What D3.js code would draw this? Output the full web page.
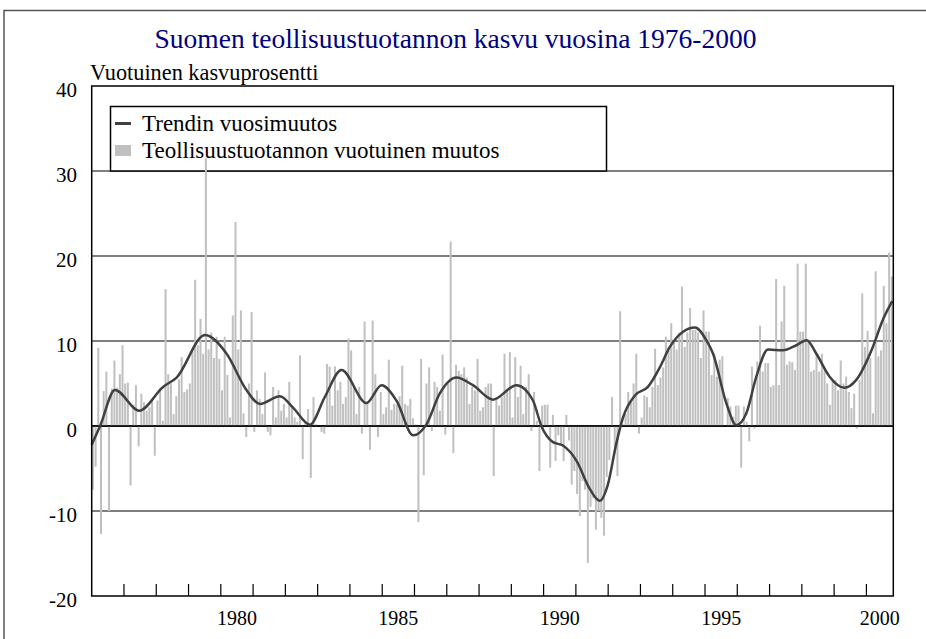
<!DOCTYPE html>
<html>
<head>
<meta charset="utf-8">
<script src="https://cdn.jsdelivr.net/npm/d3@7"></script>
<style>
  body { margin: 0; background: #fff; }
  text { font-family: "Liberation Serif", "Times New Roman", serif; }
</style>
</head>
<body>
<div id="chart"></div>
<script>
// monthly growth of industrial production, % change from a year earlier
var g1976_80 = [
  -7.5, -4.8, 9.2, -12.7, 4.1, 6.4, -10.0, 4.4, 7.7, 4.5, 6.1, 9.5,
  5.0, 5.1, -7.0, 2.5, 4.8, -2.4, 3.8, 2.8, 1.8, 2.2, 3.0, -3.5,
  3.0, 4.5, 0.6, 16.1, 6.1, 5.0, 1.4, 3.5, 5.5, 8.1, 4.0, 4.3,
  5.0, 9.0, 17.2, 9.5, 12.6, 8.5, 31.5, 9.0, 11.0, 8.0, 10.5, 7.9,
  4.2, 10.5, 6.0, 1.0, 13.0, 24.0, 9.0, 13.6, 1.5, -1.3, 5.0, 13.4
];
var g1981_85 = [
  -0.7, 4.2, 3.2, 1.4, 6.3, -0.7, -1.1, 4.6, 1.0, 4.2, 1.8, 2.6,
  1.0, 5.2, 2.2, 1.0, 0.5, 8.3, -3.9, 0.5, 2.0, -6.1, 3.4, 0.2,
  0.0, -0.7, -0.9, 7.3, 7.0, 2.4, 7.0, 4.2, 5.2, 2.6, 3.4, 10.3,
  8.9, 4.6, 1.4, 4.6, -0.9, 12.3, 2.8, -2.8, 12.4, 6.1, -1.3, 4.0,
  1.4, 2.2, 7.8, 1.9, 2.6, 2.5, 3.5, 7.1, 2.6, 2.4, 3.2, 0.9
];
var g1986_90 = [
  0.2, -11.3, 7.9, -5.8, 5.0, 6.9, -0.6, 5.2, 4.6, 1.8, 8.4, -1.0,
  5.0, 21.7, -3.2, 7.2, 6.5, 6.1, 6.9, 5.7, 2.6, 4.6, 4.2, 7.9,
  1.8, 2.2, 4.6, 5.0, 5.0, -5.9, 3.4, 2.4, 3.4, 8.5, 4.2, 8.7,
  1.0, 8.1, 3.4, 7.1, 1.4, 4.6, 6.1, -0.6, 4.0, 0.6, -5.3, 2.4,
  2.5, 2.5, -4.9, 1.3, -4.1, -1.1, -2.1, -4.1, 1.3, -1.7, -6.9, -5.3
];
var g1991_95 = [
  -8.0, -10.6, -6.5, -7.5, -16.1, -9.5, -8.5, -12.2, -10.0, -10.8, -12.9, -6.0,
  -4.0, 3.4, -2.5, -5.9, 13.5, 0.2, 1.4, 4.0, 2.8, 5.0, 8.5, -0.9,
  1.0, 3.6, 3.4, 2.2, 4.6, 9.1, 4.8, 5.7, 6.9, 10.5, 9.3, 12.1,
  10.1, 9.0, 11.0, 16.4, 9.3, 11.0, 13.9, 11.3, 11.3, 11.0, 8.0, 13.6,
  11.1, 11.1, 6.0, 8.5, 5.8, 7.8, 8.2, 0.0, 3.3, 2.3, 1.1, 2.4
];
var g1996_00 = [
  2.4, -4.9, 2.3, 0.5, -1.8, 7.0, -0.3, 7.6, 11.8, 6.4, 7.4, 7.4,
  4.6, 4.8, 17.3, 4.8, 12.3, 16.5, 7.2, 7.6, 7.5, 6.6, 19.1, 11.1,
  11.1, 19.1, 10.1, 6.4, 6.6, 8.5, 6.4, 8.5, 6.8, 5.0, 2.5, 5.4,
  5.4, 4.2, 7.7, 5.0, 5.8, 4.0, 2.1, 3.8, -0.3, 5.4, 15.6, 9.3,
  11.2, 8.0, 1.5, 18.2, 8.2, 8.9, 16.5, 12.1, 20.4, 17.6
];

// trend: year-on-year change of the trend, read at turning points
var trendYear = [1976.0, 1976.26, 1976.72, 1977.47, 1978.21, 1978.63, 1979.51, 1980.18, 1980.80,
  1981.21, 1981.83, 1982.23, 1982.76, 1983.22, 1983.74, 1984.51, 1984.98, 1985.44, 1985.96,
  1986.37, 1986.78, 1987.30, 1987.81, 1988.43, 1989.16, 1989.67, 1989.93, 1990.29, 1990.60,
  1991.02, 1991.43, 1991.74, 1991.99, 1992.25, 1992.46, 1992.83, 1993.23, 1993.60, 1993.91,
  1994.32, 1994.69, 1995.04, 1995.25, 1995.66, 1995.97, 1996.28, 1996.59, 1996.95, 1997.41,
  1997.83, 1998.15, 1998.45, 1998.86, 1999.32, 1999.68, 2000.20, 2000.51, 2000.80];
var trendValue = [-2.2, 0.0, 4.25, 1.8, 4.6, 5.7, 10.7, 8.5, 4.2,
  2.6, 3.5, 2.2, 0.15, 3.4, 6.6, 2.7, 4.8, 3.0, -1.1,
  0.2, 3.8, 5.7, 4.8, 3.1, 4.8, 3.0, 0.0, -1.9, -2.3,
  -4.1, -7.4, -8.8, -6.9, -2.1, 1.0, 3.6, 4.6, 6.9, 9.3,
  11.1, 11.6, 10.1, 8.5, 2.7, 0.1, 1.5, 5.8, 9.0, 8.9,
  9.5, 10.1, 8.5, 5.8, 4.5, 5.4, 9.3, 12.5, 14.7];

var yTicks = [40, 30, 20, 10, 0, -10, -20];
var yearLabels = [1980, 1985, 1990, 1995, 2000];
var legendLabels = ["Trendin vuosimuutos", "Teollisuustuotannon vuotuinen muutos"];

var W = 926, H = 639;
var plotL = 91.7, plotR = 893.3, plotT = 86, plotB = 596;
var firstYear = 1976;

var bars = [].concat(g1976_80, g1981_85, g1986_90, g1991_95, g1996_00);
var nMonths = bars.length;

var svg = d3.select("#chart").append("svg")
    .attr("width", W)
    .attr("height", H);

// outer frame
svg.append("path")
    .attr("d", "M4," + (H + 5) + "V10.5H" + (W + 5))
    .attr("fill", "none")
    .attr("stroke", "#555")
    .attr("stroke-width", 1.5);

var x = d3.scaleLinear().domain([0, nMonths]).range([plotL, plotR]);
var y = d3.scaleLinear().domain([-20, 40]).range([plotB, plotT]);

// title
svg.append("text")
    .attr("x", 455.5)
    .attr("y", 48)
    .attr("text-anchor", "middle")
    .style("font-size", "27.5px")
    .style("fill", "#000080")
    .text("Suomen teollisuustuotannon kasvu vuosina 1976-2000");

svg.append("text")
    .attr("x", 90)
    .attr("y", 80)
    .style("font-size", "22.3px")
    .text("Vuotuinen kasvuprosentti");

// gridlines
svg.append("g").selectAll("line")
    .data(yTicks.filter(function(d) { return d != 40 && d != -20; }))
    .enter().append("line")
    .attr("x1", plotL).attr("x2", plotR)
    .attr("y1", function(d) { return y(d); })
    .attr("y2", function(d) { return y(d); })
    .attr("stroke", function(d) { return d == 0 ? "#000" : "#555"; })
    .attr("stroke-width", 1.5);

// y tick labels
svg.append("g").selectAll("text")
    .data(yTicks)
    .enter().append("text")
    .attr("x", 77)
    .attr("y", function(d) { return y(d) + 11; })
    .attr("text-anchor", "end")
    .style("font-size", "21px")
    .text(function(d) { return d; });

// legend
var legend = svg.append("g");
legend.append("rect")
    .attr("x", 110.5).attr("y", 106.5)
    .attr("width", 496).attr("height", 64.5)
    .attr("fill", "#fff")
    .attr("stroke", "#000")
    .attr("stroke-width", 1.5);
legend.append("line")
    .attr("x1", 115).attr("x2", 131)
    .attr("y1", 123.5).attr("y2", 123.5)
    .attr("stroke", "#404040")
    .attr("stroke-width", 3);
legend.append("rect")
    .attr("x", 115).attr("y", 145)
    .attr("width", 16).attr("height", 11)
    .attr("fill", "#c0c0c0");
legend.selectAll("text.lg")
    .data(legendLabels)
    .enter().append("text")
    .attr("class", "lg")
    .attr("x", 142)
    .attr("y", function(d, i) { return 131 + i * 27; })
    .style("font-size", "23px")
    .text(function(d) { return d; });

// bars
var bw = (x(1) - x(0)) * 0.75;
svg.append("g").selectAll("rect")
    .data(bars)
    .enter().append("rect")
    .attr("x", function(d, i) { return x(i) + 0.2; })
    .attr("width", bw)
    .attr("y", function(d) { return y(Math.max(0, d)); })
    .attr("height", function(d) { return Math.abs(y(d) - y(0)); })
    .attr("fill", "#c0c0c0");

// zero line again on top of bars
svg.append("line")
    .attr("x1", plotL).attr("x2", plotR)
    .attr("y1", y(0)).attr("y2", y(0))
    .attr("stroke", "#000")
    .attr("stroke-width", 1.5);

// trend
var trendPts = trendYear.map(function(t, i) { return [(t - firstYear) * 12, trendValue[i]]; });
var line = d3.line()
    .x(function(d) { return x(d[0]); })
    .y(function(d) { return y(d[1]); })
    .curve(d3.curveMonotoneX);
svg.append("path")
    .datum(trendPts)
    .attr("d", line)
    .attr("fill", "none")
    .attr("stroke", "#404040")
    .attr("stroke-width", 2.5);

// plot frame
svg.append("rect")
    .attr("x", plotL).attr("y", plotT)
    .attr("width", plotR - plotL).attr("height", plotB - plotT)
    .attr("fill", "none")
    .attr("stroke", "#000")
    .attr("stroke-width", 1.5);

// year ticks on the x axis
var years = d3.range(firstYear + 1, 2001);
svg.append("g").selectAll("line")
    .data(years)
    .enter().append("line")
    .attr("x1", function(d) { return x((d - firstYear) * 12); })
    .attr("x2", function(d) { return x((d - firstYear) * 12); })
    .attr("y1", plotB)
    .attr("y2", plotB - 12)
    .attr("stroke", "#000")
    .attr("stroke-width", 1.2);

svg.append("g").selectAll("text")
    .data(yearLabels)
    .enter().append("text")
    .attr("x", function(d) {
        var a = x((d - firstYear) * 12), b = x(Math.min(nMonths, (d + 1 - firstYear) * 12));
        return (a + b) / 2;
    })
    .attr("y", 625)
    .attr("text-anchor", "middle")
    .style("font-size", "20px")
    .text(function(d) { return d; });
</script>
</body>
</html>
